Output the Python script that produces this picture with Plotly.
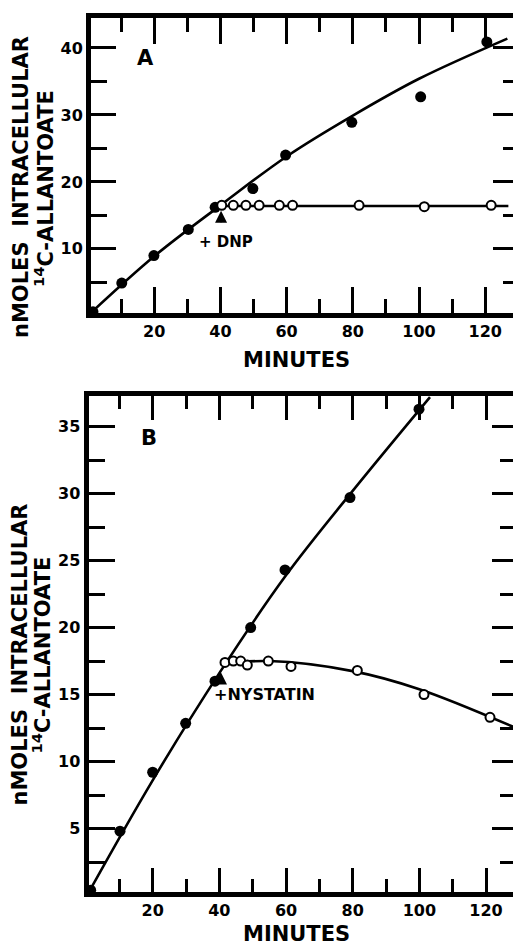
import plotly.graph_objects as go

W, H = 513, 948
FONT = "DejaVu Sans"

# ---------------- Panel A: control vs. +DNP added at 40 min ----------------
a_ctrl_min = [1.5, 10.2, 19.9, 30.3, 38.4, 49.8, 59.7, 79.7, 100.5, 120.5]
a_ctrl_nmol = [0.6, 4.9, 9.0, 12.9, 16.2, 19.0, 24.0, 28.9, 32.7, 40.9]
a_dnp_min = [40.4, 43.9, 47.7, 51.7, 57.8, 61.8, 81.9, 101.6, 121.8]
a_dnp_nmol = [16.5, 16.5, 16.5, 16.5, 16.5, 16.5, 16.5, 16.3, 16.5]
# hand-drawn smooth curves through the points
a_ctrl_curve_min = [1.2, 20, 40, 60, 80, 100, 126.7]
a_ctrl_curve_nmol = [0.6, 8.9, 16.5, 23.8, 29.9, 35.4, 41.4]
a_dnp_curve_min = [38.4, 127.0]
a_dnp_curve_nmol = [16.4, 16.4]
a_dnp_added_min, a_dnp_arrow_nmol = 40.2, 15.7

# ---------------- Panel B: control vs. +nystatin added at 40 min -----------
b_ctrl_min = [1.4, 10.2, 20.0, 29.9, 38.7, 49.4, 59.7, 79.2, 99.9]
b_ctrl_nmol = [0.4, 4.8, 9.2, 12.85, 16.0, 20.0, 24.3, 29.7, 36.3]
b_nys_min = [41.7, 44.2, 46.4, 48.4, 54.7, 61.5, 81.4, 101.4, 121.2]
b_nys_nmol = [17.4, 17.5, 17.5, 17.2, 17.5, 17.1, 16.8, 15.0, 13.3]
b_ctrl_curve_min = [0.5, 20, 40, 60, 80, 103.2]
b_ctrl_curve_nmol = [0.1, 8.6, 16.6, 23.9, 30.2, 37.2]
b_nys_curve_min = [41.1, 55, 80, 100, 128.1]
b_nys_curve_nmol = [17.3, 17.5, 16.75, 15.4, 12.6]
b_nys_added_min, b_nys_arrow_nmol = 40.2, 16.8

x_major = [20, 40, 60, 80, 100, 120]
x_minor = [10, 30, 50, 70, 90, 110]
a_y_major = [10, 20, 30, 40]
a_y_minor = [5, 15, 25, 35]
b_y_major = [5, 10, 15, 20, 25, 30, 35]
b_y_minor = [2.5, 7.5, 12.5, 17.5, 22.5, 27.5, 32.5]


def px_x(x):
    return x / W


def px_y(y):
    return 1 - y / H


def bold(size):
    return dict(family=FONT, size=size, color="black", weight="bold")


fig = go.Figure()

line_style = dict(color="black", width=2.6, shape="spline")
filled = dict(color="black", size=11)
hollow = dict(color="white", size=9, line=dict(color="black", width=2))

# panel A traces
fig.add_trace(go.Scatter(x=a_ctrl_curve_min, y=a_ctrl_curve_nmol, mode="lines",
                         line=line_style, xaxis="x", yaxis="y"))
fig.add_trace(go.Scatter(x=a_dnp_curve_min, y=a_dnp_curve_nmol, mode="lines",
                         line=line_style, xaxis="x", yaxis="y"))
fig.add_trace(go.Scatter(x=a_ctrl_min, y=a_ctrl_nmol, mode="markers", marker=filled,
                         xaxis="x", yaxis="y", cliponaxis=False))
fig.add_trace(go.Scatter(x=a_dnp_min, y=a_dnp_nmol, mode="markers", marker=hollow,
                         xaxis="x", yaxis="y", cliponaxis=False))

# panel B traces
fig.add_trace(go.Scatter(x=b_ctrl_curve_min, y=b_ctrl_curve_nmol, mode="lines",
                         line=line_style, xaxis="x2", yaxis="y2"))
fig.add_trace(go.Scatter(x=b_nys_curve_min, y=b_nys_curve_nmol, mode="lines",
                         line=line_style, xaxis="x2", yaxis="y2"))
fig.add_trace(go.Scatter(x=b_ctrl_min, y=b_ctrl_nmol, mode="markers", marker=filled,
                         xaxis="x2", yaxis="y2", cliponaxis=False))
fig.add_trace(go.Scatter(x=b_nys_min, y=b_nys_nmol, mode="markers", marker=hollow,
                         xaxis="x2", yaxis="y2", cliponaxis=False))

# empty traces so the right-hand tick-only axes are drawn
fig.add_trace(go.Scatter(x=[None], y=[None], xaxis="x", yaxis="y3", hoverinfo="skip"))
fig.add_trace(go.Scatter(x=[None], y=[None], xaxis="x2", yaxis="y4", hoverinfo="skip"))

common = dict(showgrid=False, zeroline=False, ticks="inside", tickcolor="black",
              tickwidth=2.5, tickfont=bold(16))


def minor(vals, length):
    return dict(tickmode="array", tickvals=vals, ticklen=length, ticks="inside",
                tickcolor="black", tickwidth=2.5)


fig.update_layout(
    width=W, height=H, margin=dict(l=0, r=0, t=0, b=0), autosize=False,
    paper_bgcolor="white", plot_bgcolor="white", showlegend=False,
    xaxis=dict(domain=[px_x(91), 1], range=[0.9, 128.4], anchor="y",
               tickmode="array", tickvals=x_major, ticklen=26,
               minor=minor(x_minor, 14),
               showline=True, linecolor="black", linewidth=5, mirror="ticks",
               **common),
    yaxis=dict(domain=[px_y(312.5), px_y(17.5)], range=[0.5, 44.55], anchor="x",
               tickmode="array", tickvals=a_y_major, ticklen=25,
               minor=minor(a_y_minor, 16),
               showline=True, linecolor="black", linewidth=5, **common),
    yaxis3=dict(overlaying="y", side="right", anchor="x", range=[0.5, 44.55],
                tickmode="array", tickvals=a_y_major, ticklen=20,
                minor=minor(a_y_minor, 10),
                showline=False, showticklabels=False, **common),
    xaxis2=dict(domain=[px_x(88.5), 1], range=[0.75, 128.1], anchor="y2",
                tickmode="array", tickvals=x_major, ticklen=24,
                minor=minor(x_minor, 13),
                showline=True, linecolor="black", linewidth=5, mirror="ticks",
                **common),
    yaxis2=dict(domain=[px_y(891.5), px_y(395.8)], range=[0.3, 37.3], anchor="x2",
                tickmode="array", tickvals=b_y_major, ticklen=26,
                minor=minor(b_y_minor, 16),
                showline=True, linecolor="black", linewidth=5, **common),
    yaxis4=dict(overlaying="y2", side="right", anchor="x2", range=[0.3, 37.3],
                tickmode="array", tickvals=b_y_major, ticklen=21,
                minor=minor(b_y_minor, 13),
                showline=False, showticklabels=False, **common),
)

ann = []


def text_px(x, y, text, size, angle=0):
    ann.append(dict(x=px_x(x), y=px_y(y), xref="paper", yref="paper", text=text,
                    showarrow=False, textangle=angle, xanchor="center", yanchor="middle",
                    font=bold(size)))


ytitle1 = "nMOLES\u00a0\u00a0INTRACELLULAR"
ytitle2 = "<sup>14</sup>C-ALLANTOATE"

# panel A texts
text_px(21, 187, ytitle1, 21, -90)
text_px(44, 189, ytitle2, 21, -90)
text_px(145, 58, "A", 21)
text_px(296, 360, "MINUTES", 21)
# panel B texts
text_px(19.5, 655, ytitle1, 21, -90)
text_px(41.5, 655, ytitle2, 21, -90)
text_px(149, 438, "B", 21)
text_px(296, 934, "MINUTES", 21)

# treatment labels with arrows pointing at the addition time
ann.append(dict(x=a_dnp_added_min, y=a_dnp_arrow_nmol, xref="x", yref="y", text="",
                showarrow=True, ax=0, ay=13, arrowhead=2, arrowsize=1.2,
                arrowwidth=2, arrowcolor="black"))
ann.append(dict(x=41.8, y=11.0, xref="x", yref="y", text="+ DNP", showarrow=False,
                font=bold(15)))
ann.append(dict(x=b_nys_added_min, y=b_nys_arrow_nmol, xref="x2", yref="y2", text="",
                showarrow=True, ax=0, ay=14, arrowhead=2, arrowsize=1.4,
                arrowwidth=2, arrowcolor="black"))
ann.append(dict(x=53.4, y=15.0, xref="x2", yref="y2", text="+NYSTATIN", showarrow=False,
                font=bold(16)))

fig.update_layout(annotations=ann)
fig.write_html("out.html")
